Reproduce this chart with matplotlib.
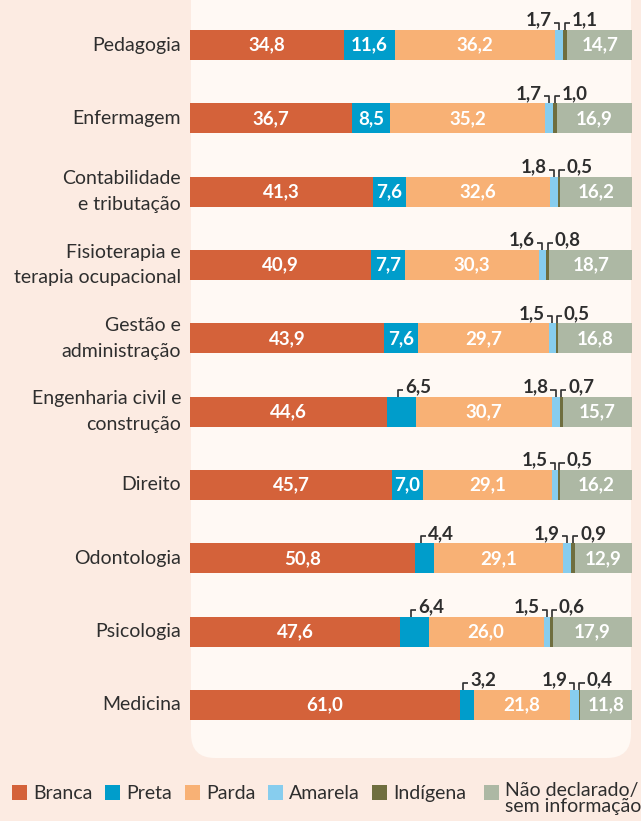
import matplotlib
matplotlib.use("Agg")
import matplotlib.pyplot as plt
from matplotlib.patches import FancyBboxPatch, Rectangle
import numpy as np

plt.rcParams['font.family'] = ['Lato', 'DejaVu Sans']

cursos = ["Pedagogia", "Enfermagem", "Contabilidade\ne tributação",
          "Fisioterapia e\nterapia ocupacional", "Gestão e\nadministração",
          "Engenharia civil e\nconstrução", "Direito", "Odontologia",
          "Psicologia", "Medicina"]
series = ["Branca", "Preta", "Parda", "Amarela", "Indígena",
          "Não declarado/\nsem informação"]
branca = [34.8, 36.7, 41.3, 40.9, 43.9, 44.6, 45.7, 50.8, 47.6, 61.0]
preta = [11.6, 8.5, 7.6, 7.7, 7.6, 6.5, 7.0, 4.4, 6.4, 3.2]
parda = [36.2, 35.2, 32.6, 30.3, 29.7, 30.7, 29.1, 29.1, 26.0, 21.8]
amarela = [1.7, 1.7, 1.8, 1.6, 1.5, 1.8, 1.5, 1.9, 1.5, 1.9]
indigena = [1.1, 1.0, 0.5, 0.8, 0.5, 0.7, 0.5, 0.9, 0.6, 0.4]
nao_decl = [14.7, 16.9, 16.2, 18.7, 16.8, 15.7, 16.2, 12.9, 17.9, 11.8]

cores = ["#D4623A", "#009DCB", "#F8B175", "#87CDEE", "#6F6E3F", "#ADB8A4"]
bg = "#FCEBE2"
painel = "#FFF9F4"
escuro = "#2E2E2E"

W, H = 641, 821
fig = plt.figure(figsize=(W / 100, H / 100), dpi=100, facecolor=bg)

# painel arredondado (em polegadas)
fig.patches.append(FancyBboxPatch((1.91, (H - 758) / 100), 4.40, (758 + 30) / 100,
                                  boxstyle="round,pad=0,rounding_size=0.24",
                                  transform=fig.dpi_scale_trans,
                                  facecolor=painel, edgecolor="none", zorder=-1))

ax = fig.add_axes([190 / W, (H - 758) / H, 442 / W, 758 / H])
ax.set_zorder(2)
ax.set_facecolor("none")
ax.axis("off")

y = np.arange(len(cursos))
dados = np.array([branca, preta, parda, amarela, indigena, nao_decl])
alt = 30 / 73.33
left = np.zeros(len(cursos))
for k in range(len(series)):
    ax.barh(y, dados[k], left=left, height=alt, color=cores[k], edgecolor="none")
    left = left + dados[k]

ax.set_xlim(0, 100)
ax.set_ylim((758 - 45) / 73.33, -45 / 73.33)

fmt = lambda v: f"{v:.1f}".replace(".", ",")

topo_h = 7 / 73.33
braco = 1.2

def colchete(xc, yi, valor, lado):
    y0 = yi - alt / 2
    y1 = y0 - topo_h
    x1 = xc + braco if lado == "dir" else xc - braco
    ax.plot([xc, xc, x1], [y0, y1, y1], color=escuro, lw=1.2,
            solid_capstyle="butt", clip_on=False)
    if lado == "dir":
        ax.text(x1 + 0.4, y1 - 0.04, fmt(valor), ha="left", va="center",
                fontsize=13.5, fontweight="bold", color=escuro)
    else:
        ax.text(x1 - 0.4, y1 - 0.04, fmt(valor), ha="right", va="center",
                fontsize=13.5, fontweight="bold", color=escuro)

for i in range(len(cursos)):
    acum = np.concatenate([[0], np.cumsum(dados[:, i])])
    for k in range(len(series)):
        v = dados[k, i]
        xc = (acum[k] + acum[k + 1]) / 2
        if k == 3:
            colchete(xc, i, v, "esq")
        elif k == 4:
            colchete(xc, i, v, "dir")
        elif v < 7:
            colchete(xc - 0.8, i, v, "dir")
        else:
            ax.text(xc, i, fmt(v), ha="center", va="center", fontsize=13.5,
                    fontweight="bold", color="white")
    ax.text(-2.0, i, cursos[i], ha="right", va="center", fontsize=14,
            color=escuro, linespacing=1.6)

# legenda
leg_x = [12, 105, 185, 268, 372, 484]
for k, nome in enumerate(series):
    fig.patches.append(Rectangle((leg_x[k] / W, (H - 800) / H), 15 / W, 15 / H,
                                 transform=fig.transFigure, facecolor=cores[k],
                                 edgecolor="none"))
    if k == 5:
        fig.text((leg_x[k] + 21) / W, (H - 782) / H, nome, ha="left", va="top",
                 fontsize=14, color=escuro, linespacing=0.9)
    else:
        fig.text((leg_x[k] + 21) / W, (H - 793) / H, nome, ha="left", va="center",
                 fontsize=14, color=escuro)

fig.savefig("out.png", dpi=100, facecolor=bg)
